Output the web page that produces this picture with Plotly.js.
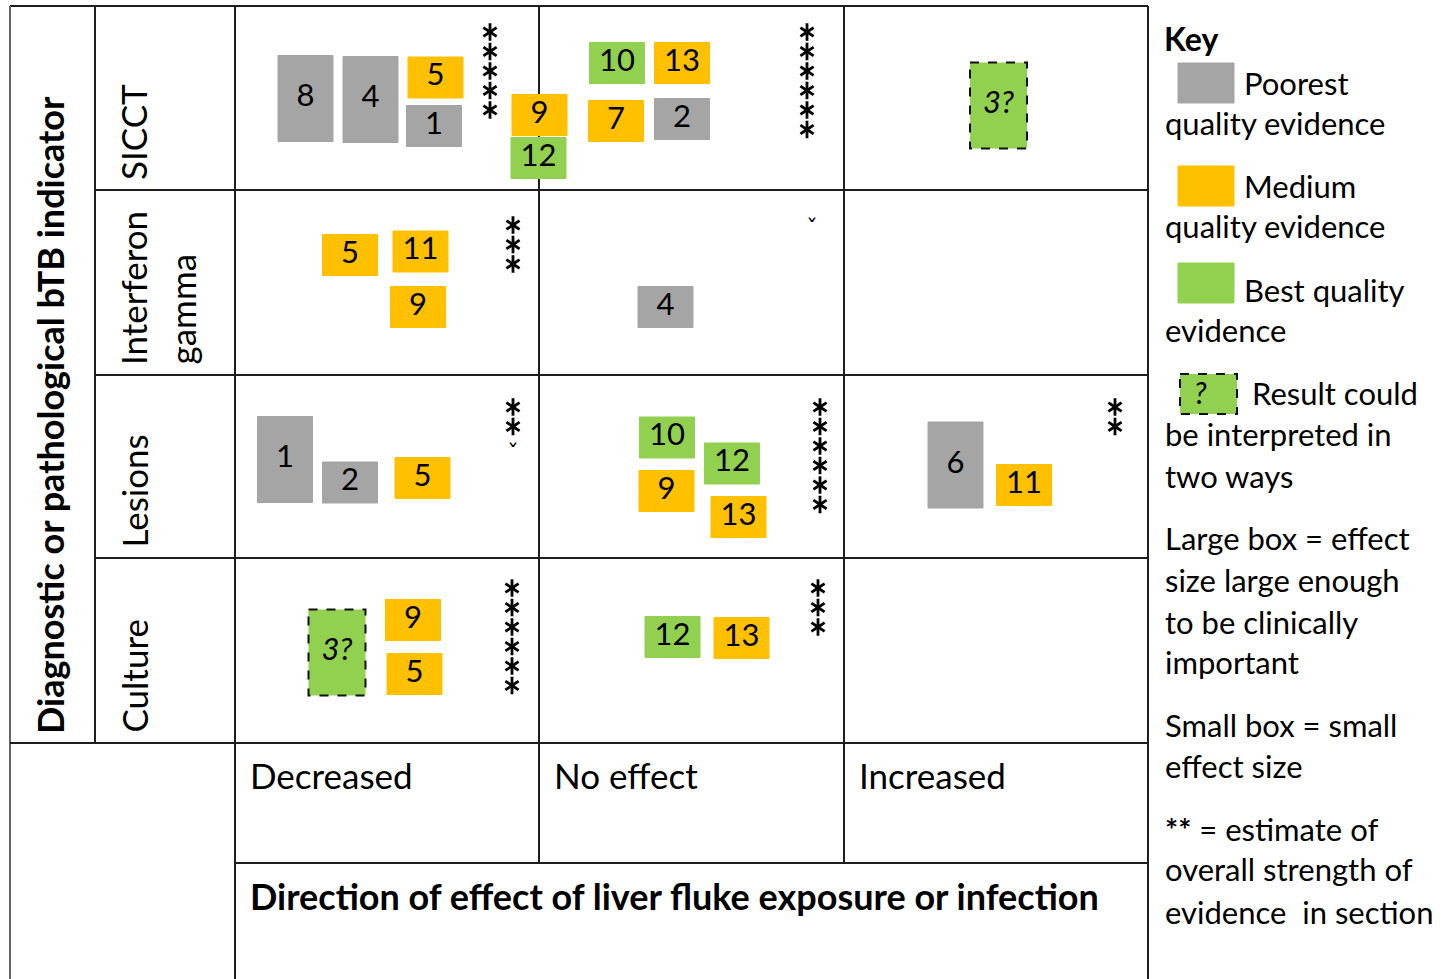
<!DOCTYPE html>
<html><head><meta charset="utf-8">
<script src="https://cdn.plot.ly/plotly-3.0.1.min.js"></script>
<style>html,body{margin:0;padding:0;background:#fff}#chart{width:1448px;height:979px}</style>
</head><body><div id="chart"></div><script>
// ---------------- DATA ----------------
const rowLabels = ["SICCT", "Interferon<br>gamma", "Lesions", "Culture"];
const colLabels = ["Decreased", "No effect", "Increased"];
const yTitle = "Diagnostic or pathological bTB indicator";
const xTitle = "Direction of effect of liver fluke exposure or infection";

const studyLabels  = ["8","4","5","1","9","12","10","13","7","2","3?",
                      "5","11","9","4",
                      "1","2","5","10","12","9","13","6","11",
                      "3?","9","5","12","13"];
const studyQuality = ["poor","poor","medium","poor","medium","best","best","medium","medium","poor","best",
                      "medium","medium","medium","poor",
                      "poor","poor","medium","best","best","medium","medium","poor","medium",
                      "best","medium","medium","best","medium"];
const studyEffect  = ["large","large","small","small","small","small","small","small","small","small","large",
                      "small","small","small","small",
                      "large","small","small","small","small","small","small","large","small",
                      "large","small","small","small","small"];
const studyAmbiguous = [false,false,false,false,false,false,false,false,false,false,true,
                        false,false,false,false,
                        false,false,false,false,false,false,false,false,false,
                        true,false,false,false,false];
const studyRow = [0,0,0,0,0,0,0,0,0,0,0, 1,1,1,1, 2,2,2,2,2,2,2,2,2, 3,3,3,3,3];
const studyCol = [0,0,0,0,1,1,1,1,1,1,2, 0,0,0,1, 0,0,0,1,1,1,1,2,2, 0,0,0,1,1];

// overall strength of evidence (number of asterisks) per [row][col]
const strengthStars = [[5,6,0],[3,0,0],[2,6,2],[6,3,0]];
const partialStars  = [[0,0,0],[0,1,0],[1,0,0],[0,0,0]];

const keyTitle = "Key";
const keyQuality = ["poor","medium","best"];
const keyQualityText = [["Poorest","quality evidence"],["Medium","quality evidence"],["Best quality","evidence"]];
const keyAmbiguousText = ["Result could","be interpreted in","two ways"];
const keyNotes = [["Large box = effect","size large enough","to be clinically","important"],
                  ["Small box = small","effect size"],
                  ["<b>**</b> = estimate of","overall strength of","evidence  in section"]];

// ---------------- LAYOUT / STYLE ----------------
const W = 1448, H = 979;
const FONT = "Lato, 'Open Sans', sans-serif";
const colEdges = [235, 539, 844, 1148];
const rowEdges = [6, 190, 375, 558, 743];
const qualityColor = {poor: "#a5a5a5", medium: "#ffc000", best: "#92d050"};
const boxW = 55, boxH = {small: 41, large: 86};
// box centre offsets within their cell (px)
const boxDX = [70.5,135.5,200.5,199,0.5,-0.5,78,143,77,143,154.5,
               115,185.5,183,126.5,
               50,115,187.5,128,193,127.5,199.5,111.5,180,
               102,178,179.5,133.5,202.5];
const boxDY = [92.5,93.5,71.5,120,109,152,57,57,115,113,99.5,
               65,61.5,117,117,
               84.5,107.5,103,62.5,88.5,116,142,90,110,
               94.5,62,116,79,80];
// asterisk column positions within cell
const starDX = [[255,268,0],[278,273,0],[278,281,271],[277,279,0]];
const starDY = [[26,26,0],[35,31,0],[32,32,32],[30,30,0]];
const starGap = 19.5;

const shapes = [];
const annotations = [];
function seg(x0,y0,x1,y1,color,width){
  shapes.push({type:"line",xref:"x",yref:"y",x0,y0,x1,y1,layer:"below",line:{color:color||"#1e1e1e",width:width||2}});
}
// grid
seg(10,6,1148,6);
seg(10,6,10,979,"#666",2);
seg(95,6,95,743);
seg(235,6,235,979);
seg(539,6,539,863);
seg(844,6,844,863);
seg(1148,6,1148,979);
seg(95,190,1148,190);
seg(95,375,1148,375);
seg(95,558,1148,558);
seg(10,743,1148,743);
seg(235,863,1148,863);

// boxes
const txtX = [], txtY = [], txtT = [];
studyLabels.forEach((lab,i)=>{
  const cx = colEdges[studyCol[i]] + boxDX[i];
  const cy = rowEdges[studyRow[i]] + boxDY[i];
  const h = boxH[studyEffect[i]];
  const w = studyAmbiguous[i] ? boxW + 2 : boxW;
  const col = qualityColor[studyQuality[i]];
  shapes.push({type:"rect",xref:"x",yref:"y",layer:"below",
    x0:cx-w/2,x1:cx+w/2,y0:cy-h/2,y1:cy+h/2,fillcolor:col,
    line: studyAmbiguous[i] ? {color:"#111",width:2,dash:"dash"} : {color:col,width:1}});
  txtX.push(cx); txtY.push(cy);
  txtT.push(studyAmbiguous[i] ? "<i>"+lab+"</i>" : lab);
});

// stars
const sx=[], sy=[], px=[], py=[];
for(let r=0;r<4;r++) for(let c=0;c<3;c++){
  const n = strengthStars[r][c];
  for(let k=0;k<n;k++){ sx.push(colEdges[c]+starDX[r][c]); sy.push(rowEdges[r]+starDY[r][c]+k*starGap); }
  if(partialStars[r][c]){ px.push(colEdges[c]+starDX[r][c]); py.push(rowEdges[r]+starDY[r][c]+n*starGap+10); }
}

// row labels
rowLabels.forEach((lab,r)=>{
  lab.split("<br>").forEach((line,j)=>{
    annotations.push({xref:"x",yref:"y",x:133+j*48,y:rowEdges[r+1]-8,text:line,showarrow:false,
      textangle:-90,xanchor:"center",yanchor:"bottom",font:{family:FONT,size:35,color:"#000"}});
  });
});
annotations.push({xref:"x",yref:"y",x:50,y:736,text:"<b>"+yTitle+"</b>",showarrow:false,
  textangle:-90,xanchor:"center",yanchor:"bottom",font:{family:FONT,size:36,color:"#000"}});
colLabels.forEach((lab,c)=>{
  annotations.push({xref:"x",yref:"y",x:colEdges[c]+13,y:775,text:lab,showarrow:false,
    xanchor:"left",yanchor:"middle",font:{family:FONT,size:35,color:"#000"}});
});
annotations.push({xref:"x",yref:"y",x:248,y:896,text:"<b>"+xTitle+"</b>",showarrow:false,
  xanchor:"left",yanchor:"middle",font:{family:FONT,size:36,color:"#000"}});

// key
function keyText(t,x,y,size){
  annotations.push({xref:"x",yref:"y",x,y,text:t,showarrow:false,xanchor:"left",yanchor:"middle",
    font:{family:FONT,size:size||31,color:"#000"}});
}
keyText("<b>"+keyTitle+"</b>",1162,38,32);
const swY = [83,186,283];
keyQuality.forEach((q,i)=>{
  shapes.push({type:"rect",xref:"x",yref:"y",layer:"below",x0:1178,x1:1234,y0:swY[i]-20,y1:swY[i]+20,
    fillcolor:qualityColor[q],line:{color:qualityColor[q],width:1}});
  keyText(keyQualityText[i][0],1242,i===2?290:swY[i]);
  keyText(keyQualityText[i][1],1163,(i===2?290:swY[i])+40);
});
shapes.push({type:"rect",xref:"x",yref:"y",layer:"below",x0:1180,x1:1237,y0:374,y1:414,
  fillcolor:qualityColor.best,line:{color:"#111",width:2,dash:"dash"}});
keyText("<i>?</i>",1192,392,30);
keyText(keyAmbiguousText[0],1250,393);
keyText(keyAmbiguousText[1],1163,434);
keyText(keyAmbiguousText[2],1163,476);
const noteY = [[538,580,622,662],[725,766],[829,869,912]];
keyNotes.forEach((p,i)=>p.forEach((t,j)=>keyText(t,1163,noteY[i][j])));

const traces = [
  {type:"scatter",mode:"text",x:txtX,y:txtY,text:txtT,textposition:"middle center",
   textfont:{family:FONT,size:31,color:"#000"},hoverinfo:"skip",showlegend:false},
  {type:"scatter",mode:"markers",x:sx,y:sy,hoverinfo:"skip",showlegend:false,
   marker:{symbol:"y-up-open",size:11,color:"#000",line:{color:"#000",width:2.8}}},
  {type:"scatter",mode:"markers",x:sx,y:sy,hoverinfo:"skip",showlegend:false,
   marker:{symbol:"y-down-open",size:11,color:"#000",line:{color:"#000",width:2.8}}},
  {type:"scatter",mode:"text",x:px,y:py,text:px.map(()=>"ˇ"),textposition:"middle center",
   textfont:{family:"DejaVu Sans",size:24,color:"#000"},hoverinfo:"skip",showlegend:false}
];

const layout = {
  width:W,height:H,margin:{l:0,r:0,t:0,b:0},paper_bgcolor:"#fff",plot_bgcolor:"#fff",
  xaxis:{range:[0,W],visible:false,fixedrange:true},
  yaxis:{range:[H,0],visible:false,fixedrange:true},
  shapes,annotations,showlegend:false,hovermode:false
};
Plotly.newPlot("chart",traces,layout,{staticPlot:true});
</script></body></html>
